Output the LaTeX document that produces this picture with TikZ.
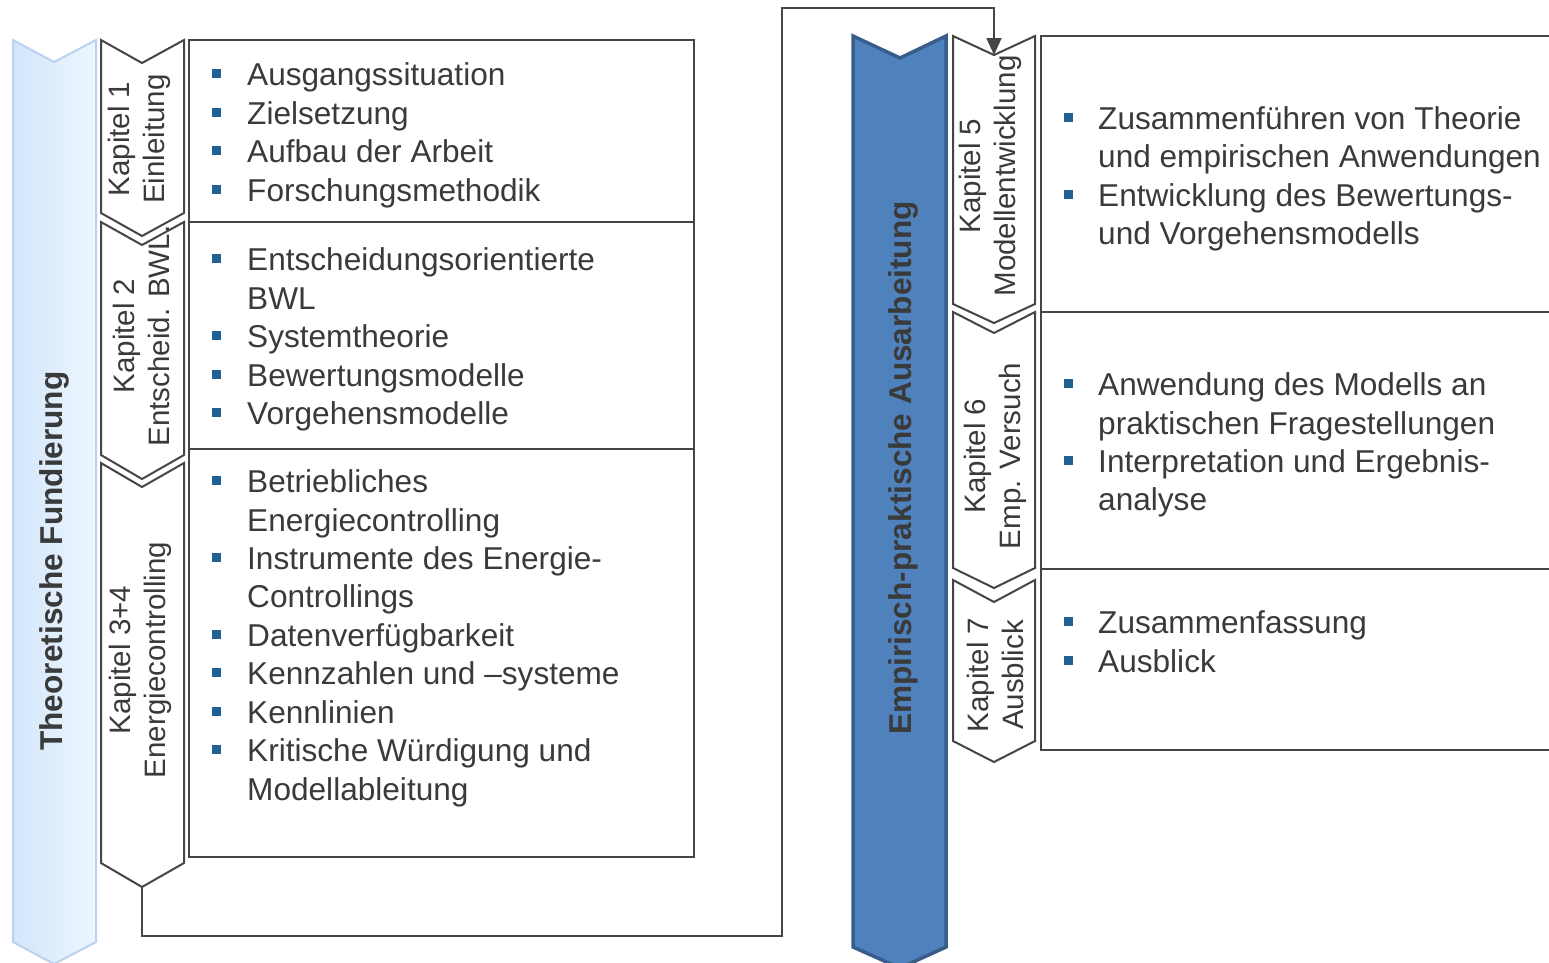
\documentclass[tikz,border=0pt]{standalone}
\usepackage{fontspec}
\setmainfont{Liberation Sans}
\usetikzlibrary{arrows.meta}

\definecolor{txt}{HTML}{3A3A3A}
\definecolor{frame}{HTML}{454545}
\definecolor{bulletblue}{HTML}{1F6193}
\definecolor{paleL}{HTML}{D3E6FB}
\definecolor{paleR}{HTML}{EDF6FE}
\definecolor{paleEdge}{HTML}{BAD2F0}
\definecolor{barblue}{HTML}{4F81BD}
\definecolor{baredge}{HTML}{385D8A}

\tikzset{
  chev/.style={draw=frame, line width=2pt, fill=white, line join=miter},
  listbox/.style={draw=frame, line width=1.6pt},
  btext/.style={anchor=base west, inner sep=0pt, text=txt, font=\fontsize{31.6}{38.6}\selectfont},
  bsq/.style={fill=bulletblue, inner sep=0pt, minimum size=9pt},
  chlabel/.style={rotate=90, align=center, text=txt, inner sep=0pt,
    font=\fontsize{29.5}{35}\selectfont},
  barlabel/.style={rotate=90, text=txt, inner sep=0pt,
    font=\fontsize{31.6}{38}\selectfont\bfseries},
  link/.style={draw=frame, line width=1.6pt}
}

% bullet line: name, x of bullet, x of text, line centre y, text
\newcommand\bline[5]{%
  \node[bsq] (#1b) at (#2,#4-1) {};
  \node[btext] (#1) at (#3,#4+11) {#5};}
% continuation line: name, x of text, line centre y, text
\newcommand\contline[4]{\node[btext] (#1) at (#2,#3+11) {#4};}

\begin{document}
\begin{tikzpicture}[x=1pt,y=-1pt]
\clip (0,0) rectangle (1549,962);

% ---- left column: theoretical foundation ----
\path[left color=paleL, right color=paleR, draw=paleEdge, line width=2pt]
  (13,40) -- (54,62) -- (96,40) -- (96,942) -- (54,964) -- (13,942) -- cycle;
\node[barlabel] (theo) at (54,561) {Theoretische Fundierung};

% chapter chevrons
\path[chev] (101,40) -- (142,63) -- (184,40) -- (184,213) -- (142,236) -- (101,213) -- cycle;
\path[chev] (101,222) -- (142,245) -- (184,222) -- (184,455) -- (142,479) -- (101,455) -- cycle;
\path[chev] (101,463) -- (142,487) -- (184,463) -- (184,863) -- (142,887) -- (101,863) -- cycle;
\coordinate (c34bot) at (142,887);

\node[chlabel] (ch1) at (139,139) {Kapitel 1\\Einleitung};
\node[chlabel] (ch2) at (141,336) {Kapitel 2\\Entscheid. BWL.};
\node[chlabel] (ch34) at (140,660) {Kapitel 3+4\\Energiecontrolling};

% content boxes
\draw[listbox] (189,40) rectangle (694,222);
\draw[listbox] (189,222) rectangle (694,449);
\draw[listbox] (189,449) rectangle (694,857);

\bline{a1}{216}{247}{74}{Ausgangssituation}
\bline{a2}{216}{247}{113}{Zielsetzung}
\bline{a3}{216}{247}{151}{Aufbau der Arbeit}
\bline{a4}{216}{247}{190}{Forschungsmethodik}

\bline{b1}{216}{247}{259}{Entscheidungsorientierte}
\contline{b1c}{247}{298}{BWL}
\bline{b2}{216}{247}{336}{Systemtheorie}
\bline{b3}{216}{247}{375}{Bewertungsmodelle}
\bline{b4}{216}{247}{413}{Vorgehensmodelle}

\bline{c1}{216}{247}{481}{Betriebliches}
\contline{c1c}{247}{520}{Energiecontrolling}
\bline{c2}{216}{247}{558}{Instrumente des Energie-}
\contline{c2c}{247}{596}{Controllings}
\bline{c3}{216}{247}{635}{Datenverfügbarkeit}
\bline{c4}{216}{247}{673}{Kennzahlen und –systeme}
\bline{c5}{216}{247}{712}{Kennlinien}
\bline{c6}{216}{247}{750}{Kritische Würdigung und}
\contline{c6c}{247}{789}{Modellableitung}

% ---- right column: empirical-practical work ----
\path[fill=barblue, draw=baredge, line width=3.5pt, line join=miter]
  (853,36) -- (900,58) -- (946,36) -- (946,947) -- (900,968) -- (853,947) -- cycle;
\node[barlabel] (emp) at (903,468) {Empirisch-praktische Ausarbeitung};

\path[chev] (953,36) -- (994,55) -- (1035,36) -- (1035,304) -- (994,323) -- (953,304) -- cycle;
\path[chev] (953,312) -- (994,333) -- (1035,312) -- (1035,568) -- (994,588) -- (953,568) -- cycle;
\path[chev] (953,580) -- (994,602) -- (1035,580) -- (1035,741) -- (994,762) -- (953,741) -- cycle;
\coordinate (c5top) at (994,55);

\node[chlabel] (ch5) at (990,176) {Kapitel 5\\Modellentwicklung};
\node[chlabel] (ch6) at (995,456) {Kapitel 6\\Emp. Versuch};
\node[chlabel] (ch7) at (995,675) {Kapitel 7\\Ausblick};

\draw[listbox] (1041,36) rectangle (1570,312);
\draw[listbox] (1041,312) rectangle (1570,569);
\draw[listbox] (1041,569) rectangle (1570,750);

\bline{d1}{1068}{1098}{118}{Zusammenführen von Theorie}
\contline{d1c}{1098}{156}{und empirischen Anwendungen}
\bline{d2}{1068}{1098}{195}{Entwicklung des Bewertungs-}
\contline{d2c}{1098}{233}{und Vorgehensmodells}

\bline{e1}{1068}{1098}{384}{Anwendung des Modells an}
\contline{e1c}{1098}{423}{praktischen Fragestellungen}
\bline{e2}{1068}{1098}{461}{Interpretation und Ergebnis-}
\contline{e2c}{1098}{499}{analyse}

\bline{f1}{1068}{1098}{622}{Zusammenfassung}
\bline{f2}{1068}{1098}{661}{Ausblick}

% ---- link from chapter 3+4 to chapter 5 ----
\draw[link, -{Triangle[length=17pt,width=15pt]}]
  (c34bot) |- (782,936) |- (994,8) -- (c5top);

\end{tikzpicture}
\end{document}
